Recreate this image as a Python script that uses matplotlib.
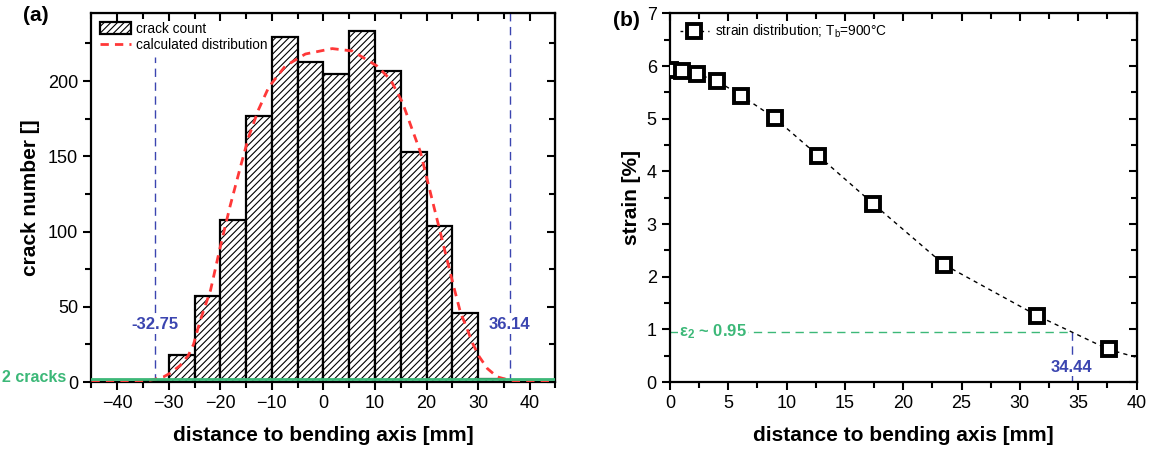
import matplotlib.pyplot as plt
from matplotlib.patches import Patch
from matplotlib.lines import Line2D
from matplotlib.ticker import MultipleLocator

plt.rcParams['font.family'] = ['Liberation Sans', 'DejaVu Sans']
plt.rcParams['hatch.linewidth'] = 0.8

# (a) crack histogram, 5 mm bins
bin_left = [-35, -30, -25, -20, -15, -10, -5, 0, 5, 10, 15, 20, 25, 30]
crack_count = [1, 18, 57, 108, 177, 229, 213, 205, 233, 207, 153, 104, 46, 2]

# calculated distribution
dist_x = [-45, -40, -35, -32.8, -31, -29.7, -27.8, -26.2, -25.2, -23.9, -21.9, -20,
          -18.1, -16.1, -14.5, -12.6, -10.6, -7.4, -3.5, 1.7, 5.6, 10.4, 13, 15.3,
          17.2, 18.8, 19.8, 21.1, 22.7, 24, 25.3, 26.6, 27.8, 28.9, 30.2, 31.8,
          33.7, 36.1, 40, 45]
dist_y = [0, 0.1, 0.5, 1.8, 3.5, 6, 11, 17.8, 25, 41, 61, 90,
          117, 143, 163, 181, 196, 210, 218, 221.6, 220, 210, 201, 186,
          168, 153, 139, 121, 99, 81, 63, 46, 36, 26, 17, 9,
          3.5, 1.2, 0.2, 0]
limits_a = [-32.75, 36.14]
crack_limit = 2

# (b) strain distribution
dist_mm = [0.0, 1.0, 2.3, 4.0, 6.1, 9.0, 12.7, 17.4, 23.5, 31.5, 37.6]
strain = [5.93, 5.91, 5.85, 5.72, 5.44, 5.01, 4.30, 3.39, 2.23, 1.26, 0.62]
fit_x = dist_mm + [40.0]
fit_y = strain + [0.47]
eps2 = 0.95
x_eps2 = 34.44

red = '#ff3838'
blue = '#3b45b0'
green = '#3cb878'
white_box = dict(facecolor='white', edgecolor='none', pad=1)

fig = plt.figure(figsize=(11.5, 4.53), dpi=100)
ax1 = fig.add_axes([0.0795, 0.1565, 0.4035, 0.814])
ax2 = fig.add_axes([0.5826, 0.1565, 0.4057, 0.814])

# ---- panel (a)
ax1.bar(bin_left, crack_count, width=5, align='edge', facecolor='white',
        edgecolor='black', linewidth=1.6, hatch='/////', zorder=2)
ax1.plot(dist_x, dist_y, color=red, ls=(0, (3, 2.2)), lw=2, zorder=3)
# left limit line stops below the legend
ax1.plot([limits_a[0], limits_a[0]], [0, 216], color=blue, ls=(0, (6, 4)), lw=1, zorder=1)
ax1.axvline(limits_a[1], color=blue, ls=(0, (6, 4)), lw=1, zorder=1)
ax1.axhline(crack_limit, color=green, lw=2, zorder=4)
ax1.text(limits_a[0], 38, '-32.75', color=blue, fontsize=12, fontweight='bold',
         ha='center', va='center', bbox=white_box, zorder=5)
ax1.text(limits_a[1], 38, '36.14', color=blue, fontsize=12, fontweight='bold',
         ha='center', va='center', bbox=white_box, zorder=5)
ax1.text(-0.055, crack_limit + 1, '2 cracks', color=green, fontsize=11.5, fontweight='bold',
         ha='right', va='center', transform=ax1.get_yaxis_transform())

ax1.set_xlim(-45, 45)
ax1.set_ylim(0, 245)
ax1.xaxis.set_major_locator(MultipleLocator(10))
ax1.xaxis.set_minor_locator(MultipleLocator(5))
ax1.yaxis.set_major_locator(MultipleLocator(50))
ax1.yaxis.set_minor_locator(MultipleLocator(25))
ax1.set_xlabel('distance to bending axis [mm]', fontsize=15, fontweight='bold', labelpad=10)
ax1.set_ylabel('crack number []', fontsize=15, fontweight='bold', labelpad=6)

handles = [Patch(facecolor='white', edgecolor='black', hatch='/////', linewidth=1.6),
           Line2D([0], [0], color=red, ls=(0, (3, 2.2)), lw=2)]
ax1.legend(handles, ['crack count', 'calculated distribution'], loc='upper left',
           frameon=False, fontsize=9.8, borderaxespad=0.2, handlelength=2.3,
           handleheight=1.0, handletextpad=0.35, labelspacing=0.2)

# ---- panel (b)
ax2.plot(fit_x, fit_y, color='black', ls=(0, (3, 3)), lw=1, zorder=2)
ax2.plot(dist_mm, strain, ls='none', marker='s', ms=10.5, mfc='white', mec='black',
         mew=2.8, zorder=3)
ax2.plot([0, x_eps2], [eps2, eps2], color=green, ls=(0, (6, 4)), lw=1, zorder=1)
ax2.plot([x_eps2, x_eps2], [0, eps2], color=blue, ls=(0, (6, 4)), lw=1, zorder=1)
ax2.text(0.8, eps2, r'$\mathregular{\varepsilon_2}$ ~ 0.95', color=green, fontsize=12,
         fontweight='bold', va='center', ha='left', bbox=white_box)
ax2.text(x_eps2, 0.28, '34.44', color=blue, fontsize=12, fontweight='bold',
         ha='center', va='center', bbox=white_box, zorder=5)

ax2.set_xlim(0, 40)
ax2.set_ylim(0, 7)
ax2.xaxis.set_major_locator(MultipleLocator(5))
ax2.xaxis.set_minor_locator(MultipleLocator(2.5))
ax2.yaxis.set_major_locator(MultipleLocator(1))
ax2.yaxis.set_minor_locator(MultipleLocator(0.5))
ax2.set_xlabel('distance to bending axis [mm]', fontsize=15, fontweight='bold', labelpad=10)
ax2.set_ylabel('strain [%]', fontsize=15, fontweight='bold')

leg_handle = Line2D([0], [0], color='black', ls=(0, (2, 3)), lw=1, marker='s', ms=10.5,
                    mfc='white', mec='black', mew=2.8)
ax2.legend([leg_handle], [r'strain distribution; T$_\mathregular{b}$=900°C'], loc='upper left',
           frameon=False, fontsize=9.8, borderaxespad=0.3, handlelength=2.2,
           handletextpad=0.4)

# ticks: outward on bottom/left, inward on top/right
for ax in (ax1, ax2):
    for s in ax.spines.values():
        s.set_linewidth(1.6)
    ax.tick_params(which='both', direction='out', labelsize=13, width=1.5)
    ax.tick_params(which='major', length=6)
    ax.tick_params(which='minor', length=4)
    top = ax.secondary_xaxis('top')
    top.set_xticks(ax.get_xticks(minor=False))
    top.set_xticks(ax.get_xticks(minor=True), minor=True)
    top.tick_params(which='both', direction='in', labeltop=False, width=1.5)
    top.tick_params(which='major', length=6)
    top.tick_params(which='minor', length=4)
    right = ax.secondary_yaxis('right')
    right.set_yticks(ax.get_yticks(minor=False))
    right.set_yticks(ax.get_yticks(minor=True), minor=True)
    right.tick_params(which='both', direction='in', labelright=False, width=1.5)
    right.tick_params(which='major', length=6)
    right.tick_params(which='minor', length=4)

fig.text(0.02, 0.965, '(a)', fontsize=15, fontweight='bold', ha='left', va='center')
fig.text(0.533, 0.955, '(b)', fontsize=15, fontweight='bold', ha='left', va='center')

fig.savefig('out.png', dpi=100)
